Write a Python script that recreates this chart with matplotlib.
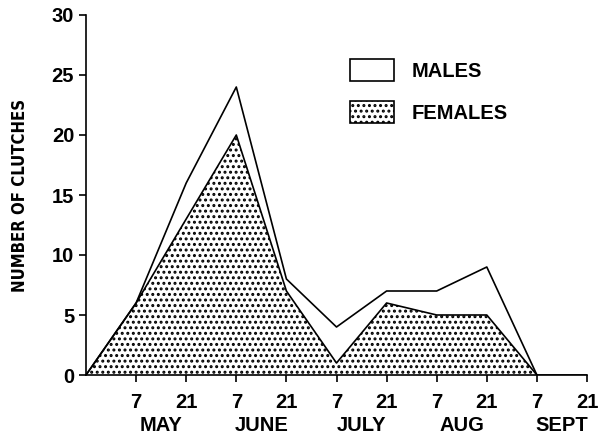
import matplotlib
matplotlib.use("Agg")
import matplotlib.pyplot as plt
from matplotlib.patches import Patch

# fortnight index: 0 = 23 April, 1 = 7 May, 2 = 21 May ...
periods = [0, 1, 2, 3, 4, 5, 6, 7, 8, 9]
males = [0, 6, 16, 24, 8, 4, 7, 7, 9, 0]
females = [0, 6, 13, 20, 7, 1, 6, 5, 5, 0]

tick_pos = [1, 2, 3, 4, 5, 6, 7, 8, 9, 10]
tick_days = ["7", "21", "7", "21", "7", "21", "7", "21", "7", "21"]
months = ["MAY", "JUNE", "JULY", "AUG", "SEPT"]
month_pos = [1.5, 3.5, 5.5, 7.5, 9.5]

plt.rcParams["hatch.linewidth"] = 1.4
font = {"family": ["Liberation Sans", "DejaVu Sans"], "weight": "bold", "size": 14.5}

fig = plt.figure(figsize=(6.08, 4.36), dpi=100)
ax = fig.add_axes([86 / 608, 1 - 375 / 436, 501 / 608, 360 / 436])

ax.fill_between(periods, 0, females, facecolor="white", edgecolor="black",
                hatch="...", linewidth=0)
ax.plot(periods, females, color="black", lw=1.2)
ax.plot(periods, males, color="black", lw=1.2)
ax.plot([9, 10], [0, 0], color="black", lw=1.2)

ax.set_xlim(0, 10)
ax.set_ylim(0, 30)
ax.spines["top"].set_visible(False)
ax.spines["right"].set_visible(False)
ax.spines["left"].set_linewidth(1.2)
ax.spines["bottom"].set_linewidth(1.2)

ax.set_yticks([0, 5, 10, 15, 20, 25, 30])
ax.set_yticklabels(["0", "5", "10", "15", "20", "25", "30"], fontdict=font)
ax.set_xticks(tick_pos)
ax.set_xticklabels(tick_days, fontdict=font)
ax.tick_params(axis="both", direction="out", length=5, width=1.2, color="black")
ax.tick_params(axis="x", pad=8)

for m, p in zip(months, month_pos):
    ax.text(p, -3.4, m, ha="center", va="top", fontdict=font)

ax.set_ylabel("NUMBER OF CLUTCHES", family="DejaVu Sans", stretch="condensed",
              weight="bold", fontsize=12, labelpad=16)

handles = [Patch(facecolor="white", edgecolor="black", lw=1.2),
           Patch(facecolor="white", edgecolor="black", hatch="...", lw=1.2)]
leg = ax.legend(handles, ["MALES", "FEMALES"], loc="upper left",
                bbox_to_anchor=(0.49, 0.928), frameon=False,
                prop={"family": "Liberation Sans", "weight": "bold", "size": 14.5},
                handlelength=2.2, handleheight=1.3, handletextpad=0.9,
                labelspacing=1.0)

fig.savefig("out.png", dpi=100)
